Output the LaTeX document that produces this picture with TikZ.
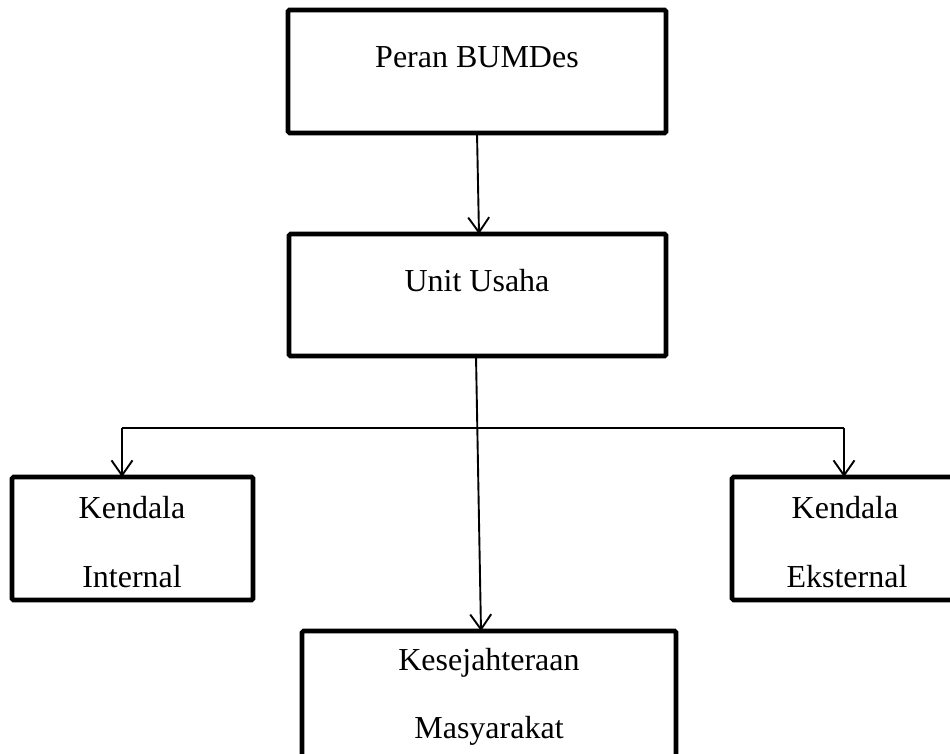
\documentclass[tikz,border=0pt]{standalone}
\usepackage{fontspec}
\setmainfont{Liberation Serif}
\usetikzlibrary{arrows.meta,calc}
\tikzset{
  box/.style={draw=black, line width=4.6pt, rounded corners=1.5pt, inner sep=0pt, outer sep=0pt, fill=white},
  lbl/.style={anchor=base, inner sep=0pt, font=\fontsize{32}{38}\selectfont},
  conn/.style={draw=black, line width=1.9pt},
  arr/.style={conn, -{Straight Barb[length=15pt, width=21pt, line width=1.9pt]}}
}
\begin{document}
\begin{tikzpicture}[x=1pt,y=-1pt]
\useasboundingbox (0,0) rectangle (950,754);
\fill[white] (0,0) rectangle (950,754);
% boxes
\node[box, minimum width=378pt, minimum height=123pt] (b1) at (477,71.5) {};
\node[box, minimum width=377pt, minimum height=122pt] (b2) at (477.5,295) {};
\node[box, minimum width=241pt, minimum height=123pt] (b3) at (132.5,538.5) {};
\node[box, minimum width=226pt, minimum height=123pt] (b4) at (845,538.5) {};
\node[box, minimum width=374pt, minimum height=134pt] (b5) at (489,698) {};
% labels
\node[lbl] (t1) at (477,68) {Peran BUMDes};
\node[lbl] (t2) at (477,291) {Unit Usaha};
\node[lbl] (t3a) at (132,518) {Kendala};
\node[lbl] (t3b) at (132,587) {Internal};
\node[lbl] (t4a) at (845,518) {Kendala};
\node[lbl] (t4b) at (847,587) {Eksternal};
\node[lbl] (t5a) at (489,670) {Kesejahteraan};
\node[lbl] (t5b) at (489,738) {Masyarakat};
% connectors
\coordinate (jl) at (122,428);
\coordinate (jr) at (844,428);
\draw[arr] (b1.south) -- ([xshift=1.5pt]b2.north);
\draw[arr] ([xshift=-1.5pt]b2.south) -- ([xshift=-8pt]b5.north);
\draw[conn] (jl) -- (jr);
\draw[arr] (jl) -- (jl |- b3.north);
\draw[arr] (jr) -- (jr |- b4.north);
\end{tikzpicture}
\end{document}
